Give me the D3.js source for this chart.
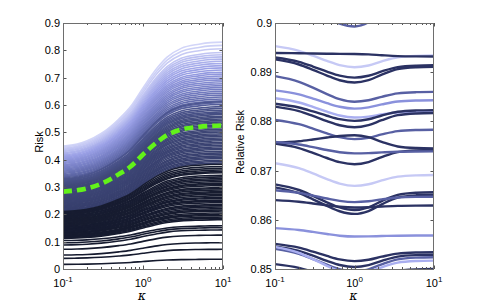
<!DOCTYPE html>
<html><head><meta charset="utf-8">
<script src="https://cdn.jsdelivr.net/npm/d3@7"></script>
<style>body{margin:0;background:#fff}text{font-family:'Liberation Sans',Arial,sans-serif;fill:#000}</style>
</head><body><svg id="c" width="479" height="304"></svg>
<script>
// ---------- data ----------
const kappaMajor = [0.1, 1, 10];
const kappaMajorExp = ["-1", "0", "1"];
const kappaMinor = [0.2,0.3,0.4,0.5,0.6,0.7,0.8,0.9,2,3,4,5,6,7,8,9];
const riskTicks = [0,0.1,0.2,0.3,0.4,0.5,0.6,0.7,0.8,0.9];
const riskTickLabels = ["0","0.1","0.2","0.3","0.4","0.5","0.6","0.7","0.8","0.9"];
const relTicks = [0.85,0.86,0.87,0.88,0.89,0.9];
const relTickLabels = ["0.85","0.86","0.87","0.88","0.89","0.9"];

// shared rise profile of the risk curves (fraction of the rise completed)
const profileKappa = [0.1,0.15,0.2,0.3,0.5,0.7,1,1.5,2,3,5,7,10];
const riskProfile  = [0,0.02,0.05,0.12,0.26,0.38,0.56,0.75,0.855,0.94,0.98,0.995,1];

// risk at kappa = 0.1 and at kappa = 10 for each individual curve
const riskStart = [
 0.017,0.039,0.051,0.072,0.088,0.096,0.104,
 0.112,0.115,0.118,0.121,0.123,0.126,0.129,0.131,0.134,0.137,0.139,0.142,0.145,0.147,0.150,0.153,0.155,0.158,0.161,0.163,0.166,0.169,0.171,0.174,0.177,0.179,0.182,0.185,0.187,0.190,0.193,0.195,0.198,0.201,0.203,0.206,0.208,0.210,
 0.213,0.216,0.219,0.222,0.225,0.228,0.231,0.234,0.237,0.240,0.243,0.246,0.249,0.252,0.255,0.258,0.261,0.264,0.267,0.270,0.273,0.276,0.279,0.282,0.285,0.288,0.291,0.294,0.297,0.300,0.303,0.306,0.309,0.312,0.315,0.318,0.321,0.324,0.327,0.330,
 0.334,0.338,0.342,0.346,0.350,0.354,0.358,0.362,0.366,0.370,0.374,0.378,0.382,0.386,0.390,0.394,0.398,0.402,0.406,0.410,0.414,0.418,0.422,0.426,0.430,0.434,0.438,0.442,0.446,0.450];
const riskEnd = [
 0.0355,0.072,0.096,0.124,0.143,0.151,0.158,
 0.180,0.185,0.190,0.196,0.200,0.205,0.212,0.216,0.221,0.227,0.232,0.236,0.243,0.248,0.252,0.258,0.262,0.268,0.274,0.279,0.283,0.289,0.294,0.298,0.305,0.310,0.314,0.320,0.326,0.331,0.337,0.343,0.352,0.356,0.362,0.368,0.375,0.383,
 0.388,0.393,0.398,0.404,0.409,0.414,0.420,0.425,0.431,0.437,0.442,0.447,0.453,0.458,0.463,0.469,0.474,0.479,0.485,0.490,0.495,0.501,0.506,0.511,0.517,0.522,0.527,0.533,0.538,0.543,0.549,0.554,0.559,0.565,0.570,0.575,0.581,0.587,0.594,0.612,
 0.602,0.608,0.615,0.622,0.629,0.636,0.643,0.650,0.657,0.664,0.671,0.678,0.685,0.692,0.699,0.706,0.713,0.720,0.728,0.736,0.744,0.752,0.760,0.768,0.776,0.784,0.792,0.806,0.818,0.830];

// mean curve (green dashed)
const meanKappa = [0.1,0.2,0.3,0.5,0.7,1,1.5,2,3,5,10];
const meanRisk  = [0.283,0.295,0.312,0.347,0.375,0.419,0.464,0.490,0.510,0.520,0.525];

// relative risk: shared dip profile (fraction of the way to the value at kappa=1)
const dipKappa  = [0.1,0.2,0.3,0.45,0.65,1,1.5,2.2,3.5,6,10];
const dipWeight = [0,0.22,0.45,0.7,0.9,1,0.85,0.5,0.15,0.03,0];
const relStart  = [0.9050,0.8953,0.8939,0.8930,0.8926,0.8892,0.8863,0.8847,0.8836,0.8830,0.8803,0.8756,0.8755,0.8758,0.8715,0.8672,0.8666,0.8660,0.8640,0.8583,0.8551,0.8546,0.8541,0.8545,0.8510];
const relCenter = [0.8993,0.8910,0.8937,0.8889,0.8879,0.8840,0.8826,0.8808,0.8801,0.8788,0.8764,0.8772,0.8713,0.8735,0.8669,0.8620,0.8612,0.8636,0.8625,0.8566,0.8516,0.8504,0.8495,0.8490,0.8475];
const relEnd    = [0.9050,0.8934,0.8932,0.8914,0.8911,0.8860,0.8843,0.8820,0.8823,0.8817,0.8783,0.8745,0.8742,0.8739,0.8691,0.8656,0.8651,0.8647,0.8629,0.8568,0.8534,0.8529,0.8524,0.8517,0.8500];
const relGroup  = [1,4,0,0,0,1,2,3,0,0,1,0,0,1,4,0,0,1,0,2,0,0,1,3,0];

// ---------- drawing ----------
const svg = d3.select('#c');
const xL = d3.scaleLog().domain([0.1,10]).range([63,223]);
const yL = d3.scaleLinear().domain([0,0.9]).range([269,23]);
const xR = d3.scaleLog().domain([0.1,10]).range([275,434]);
const yR = d3.scaleLinear().domain([0.85,0.9]).range([269,23]);

const riskColor = d3.scaleLinear()
  .domain([0,0.2105,0.2115,0.30,0.332,0.336,0.37,0.41,0.45])
  .range(['#151a2d','#171c31','#363e6c','#404979','#4d5690','#5a63a2','#7880c6','#9aa0e6','#d2d5f8']);
const relColor = d3.scaleOrdinal().domain([0,1,2,3,4])
  .range(['#2b3263','#5860a3','#8a91dc','#a9aef0','#c6c9f5']);

const defs = svg.append('defs');
function clip(id,x,y){
  defs.append('clipPath').attr('id',id).append('rect')
   .attr('x',x.range()[0]).attr('y',y.range()[1])
   .attr('width',x.range()[1]-x.range()[0]).attr('height',y.range()[0]-y.range()[1]);
}
clip('cl',xL,yL); clip('cr',xR,yR);

// left panel curves
const gl = svg.append('g').attr('clip-path','url(#cl)');
const lineL = d3.line().x(d=>xL(d[0])).y(d=>yL(d[1])).curve(d3.curveMonotoneX);
const order = d3.range(riskStart.length).sort((a,b)=>riskStart[b]-riskStart[a]);
order.forEach(i=>{
  const pts = profileKappa.map((k,j)=>[k, riskStart[i]+(riskEnd[i]-riskStart[i])*riskProfile[j]]);
  gl.append('path').attr('d',lineL(pts)).attr('fill','none')
    .attr('stroke',riskColor(riskStart[i])).attr('stroke-width',1.6);
});
gl.append('path').attr('d',lineL(meanKappa.map((k,i)=>[k,meanRisk[i]])))
  .attr('fill','none').attr('stroke','#62f21a').attr('stroke-width',4.6)
  .attr('stroke-dasharray','9,5');

// right panel curves
const gr = svg.append('g').attr('clip-path','url(#cr)');
const lineR = d3.line().x(d=>xR(d[0])).y(d=>yR(d[1])).curve(d3.curveMonotoneX);
relStart.forEach((s,i)=>{
  const pts = dipKappa.map((k,j)=>{
    const far = k<=1 ? s : relEnd[i];
    return [k, far + (relCenter[i]-far)*dipWeight[j]];
  });
  gr.append('path').attr('d',lineR(pts)).attr('fill','none')
    .attr('stroke',relColor(relGroup[i])).attr('stroke-width',2.4);
});

// axes
function axes(x,y,ticks,labels,yTitle,titleX){
  const g = svg.append('g');
  const [xa,xb]=x.range(), ya=y.range()[1], yb=y.range()[0];
  const tk = 'stroke';
  ticks.forEach((t,i)=>{
    const py = Math.round(y(t))+0.5;
    g.append('line').attr('x1',xa).attr('x2',xa+3.5).attr('y1',py).attr('y2',py).attr(tk,'#555');
    g.append('line').attr('x1',xb).attr('x2',xb-3.5).attr('y1',py).attr('y2',py).attr(tk,'#555');
    g.append('text').attr('x',xa-3).attr('y',y(t)+4).attr('text-anchor','end')
      .attr('font-size',11).text(labels[i]);
  });
  kappaMinor.forEach(k=>{
    const px = Math.round(x(k))+0.5;
    g.append('line').attr('x1',px).attr('x2',px).attr('y1',yb).attr('y2',yb-2).attr(tk,'#555');
    g.append('line').attr('x1',px).attr('x2',px).attr('y1',ya).attr('y2',ya+2).attr(tk,'#555');
  });
  kappaMajor.forEach((k,i)=>{
    const px = Math.round(x(k))+0.5;
    g.append('line').attr('x1',px).attr('x2',px).attr('y1',yb).attr('y2',yb-3.5).attr(tk,'#555');
    g.append('line').attr('x1',px).attr('x2',px).attr('y1',ya).attr('y2',ya+3.5).attr(tk,'#555');
    const t = g.append('text').attr('x',x(k)).attr('y',287).attr('text-anchor','middle').attr('font-size',11);
    t.append('tspan').text('10');
    t.append('tspan').attr('dy',-5).attr('font-size',8).text(kappaMajorExp[i]);
  });
  g.append('rect').attr('x',xa+0.5).attr('y',ya+0.5).attr('width',xb-xa-1).attr('height',yb-ya)
    .attr('fill','none').attr('stroke','#6e6e6e').attr('stroke-width',1);
  g.append('text').attr('x',(xa+xb)/2-1).attr('y',300).attr('text-anchor','middle')
    .attr('font-size',12).attr('font-style','italic').style('fill','#000')
    .style('font-family',"'DejaVu Serif','Liberation Serif',serif").text('κ');
  g.append('text').attr('transform',`translate(${titleX},${(ya+yb)/2-4}) rotate(-90)`)
    .attr('text-anchor','middle').attr('font-size',11).text(yTitle);
}
axes(xL,yL,riskTicks,riskTickLabels,'Risk',43);
axes(xR,yR,relTicks,relTickLabels,'Relative Risk',244);
</script></body></html>
